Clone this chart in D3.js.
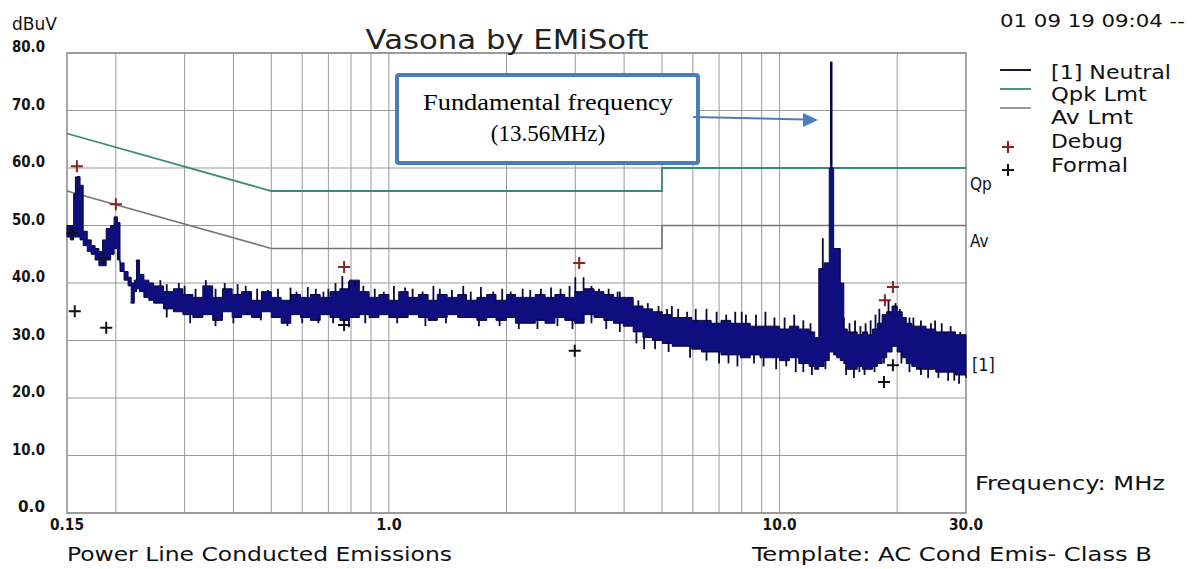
<!DOCTYPE html>
<html>
<head>
<meta charset="utf-8">
<style>
 body { margin: 0; background: #fff; }
 svg { display: block; background: #fff; }
 .lbl { font-family: "DejaVu Sans Condensed", "Liberation Sans Narrow", "DejaVu Sans", sans-serif; fill: #111; }
 .tick { font-family: "DejaVu Sans", sans-serif; font-weight: bold; fill: #151515; font-size: 16px; }
 .grid line { stroke: #9a9a9a; stroke-width: 1px; }
</style>
</head>
<body>
<svg width="1192" height="569"></svg>
<script src="https://d3js.org/d3.v7.min.js"></script>
<script>

// ---- data ----
var yTicks = [0, 10, 20, 30, 40, 50, 60, 70, 80];
var xTickLabels = [[0.15, "0.15"], [1, "1.0"], [10, "10.0"], [30, "30.0"]];
var xGrid = [0.2, 0.3, 0.4, 0.5, 0.6, 0.7, 0.8, 0.9, 1, 2, 3, 4, 5, 6, 7, 8, 9, 10, 20];

// Neutral trace, envelope of the sweep (MHz, dBuV)
var neutralFreq = [0.150, 0.153, 0.156, 0.159, 0.162, 0.165, 0.169, 0.173, 0.177, 0.181, 0.185, 0.189, 0.194, 0.198, 0.202, 0.205, 0.210, 0.215, 0.219, 0.223, 0.226, 0.230, 0.236, 0.243,
  0.25, 0.265, 0.281, 0.297, 0.315, 0.334, 0.354, 0.375, 0.397, 0.42, 0.445, 0.472, 0.5, 0.53, 0.561, 0.594, 0.63, 0.667, 0.707, 0.749, 0.793, 0.84, 0.89, 0.943,
  1.0, 1.06, 1.12, 1.19, 1.26, 1.33, 1.41, 1.5, 1.58, 1.68, 1.78, 1.88, 2.0, 2.11, 2.24, 2.37, 2.51, 2.66, 2.82, 2.99, 3.16, 3.35, 3.55, 3.76, 3.98, 4.22, 4.47, 4.73,
  5.01, 5.31, 5.62, 5.96, 6.31, 6.68, 7.08, 7.5, 7.94, 8.41, 8.91, 9.44, 10.0, 10.6, 11.2, 11.9, 12.3, 12.6, 13.0, 13.4, 13.75, 14.0, 14.3, 14.6, 14.9, 15.3, 15.8,
  16.3, 16.8, 17.3, 17.8, 18.3, 18.8, 19.4, 20.0, 20.6, 21.1, 21.8, 22.4, 23.7, 25.1, 26.6, 28.2, 30.0];
var neutralHi = [50, 50, 55.5, 58.5, 57, 49, 47.5, 46.5, 46, 45.5, 47.5, 49.5, 50, 51.5, 50.5, 43.5, 42, 41, 40, 40.5, 44, 41.5, 40.5, 40,
  39.5, 38.5, 39, 38, 37.5, 39.5, 37.5, 39, 38, 38.5, 37, 38.5, 37.5, 37, 38, 37.5, 38, 37.5, 38.5, 39, 40.5, 38.5, 37.5, 38,
  37, 38.5, 37.5, 38, 37, 38, 37.5, 38, 37, 37.5, 38, 37, 38, 37.5, 37.5, 38, 37.5, 38, 37.5, 38.5, 39, 38.5, 38, 37.5, 37.5, 36, 35.5, 35,
  34.5, 34, 34, 33.5, 33.5, 33, 33.5, 33, 33, 32.5, 32.5, 32.5, 32, 32.5, 32, 31.5, 30.5, 42.5, 43.5, 60, 46, 46, 40, 32, 31.5, 31.5, 31,
  31.5, 31, 32, 33, 34.5, 35, 36, 35, 34, 33, 32.5, 32.5, 32, 31.5, 31.5, 31, 30];
var neutralLo = [48, 47.5, 48, 48, 47.5, 46.5, 45.5, 45, 44, 43, 43, 44, 45, 46, 44, 42, 40.5, 39.5, 36.5, 38.5, 39, 38.5, 37.5, 37,
  36.5, 35.5, 35, 34.5, 34, 34.5, 33.5, 35, 34, 34.5, 34, 35, 34, 33, 34.5, 34, 33.5, 34.5, 34, 33.5, 34, 34.5, 34, 34.5,
  34, 34, 34.5, 34, 33.5, 34, 34.5, 34, 34, 33.5, 34, 33.5, 34, 33, 33, 33.5, 33, 34, 33.5, 33, 34.5, 34, 33.5, 33, 32.5, 31.5, 30.5, 30,
  29.5, 29, 29, 28.5, 28, 28, 27.5, 27.5, 27, 27.5, 27, 27, 26.5, 27, 26, 25.5, 25, 25.5, 26.5, 28, 27.5, 27, 26.5, 26, 25, 25, 25.5,
  25, 25, 25.5, 26, 27, 28, 29, 28, 27, 26, 25.5, 25, 25, 24.5, 24.5, 24, 23.5];

// narrow spikes above the envelope
var spikeFreq = [0.158, 0.226, 0.26, 0.27, 0.29, 0.30, 0.32, 0.34, 0.36, 0.38, 0.41, 0.43, 0.46, 0.49, 0.52, 0.56, 0.58, 0.62, 0.65, 0.68, 0.70, 0.73,
  0.76, 0.79, 0.82, 0.86, 0.92, 0.97, 1.03, 1.10, 1.15, 1.22, 1.30, 1.35, 1.45, 1.55, 1.62, 1.72, 1.85, 1.95, 2.05, 2.2, 2.3, 2.45, 2.6, 2.75, 2.9,
  3.0, 3.15, 3.3, 3.45, 3.65, 3.85, 3.9, 4.1, 4.35, 4.6, 4.9, 5.15, 5.3, 5.5, 5.8, 6.1, 6.5, 6.9, 7.3, 7.7, 8.0, 8.2, 8.7, 9.2, 9.7, 10.3, 10.9,
  11.5, 12.0, 12.9, 13.56, 14.6, 15.1, 15.6, 16.1, 16.6, 17.1, 17.6, 18.0, 19.0, 19.8, 20.3, 21.5, 22.0, 23.0, 24.4, 25.0, 26.0, 27.4, 29.0];
var spikeTop = [58.5, 44, 40.5, 39.8, 40, 39.5, 39, 40.5, 39, 40, 39.8, 39.5, 39, 38.8, 39, 39.2, 38.5, 39.3, 39, 38.5, 39, 40,
  41.2, 40.3, 39.5, 39.5, 39, 38.5, 39.5, 39.2, 39, 38.5, 39.5, 39, 38.8, 39.5, 38.5, 39.3, 38.5, 39, 38.5, 39, 38.8, 39, 39.2, 39, 39.5,
  41, 41, 39.5, 39, 39, 38.5, 38.5, 37.5, 37, 36.5, 36, 35.5, 36, 35.5, 35, 35.5, 35.5, 35, 34.5, 35, 35, 34.5, 34.5, 35, 34, 34, 34.5,
  33.5, 33, 47.8, 78.5, 34, 33, 33.5, 32.5, 33, 33.5, 34.5, 35.5, 37, 36.5, 35.5, 34, 34, 33.5, 33, 33.5, 33, 32.5, 31.5];
// narrow dips below the envelope
var dipFreq = [0.219, 0.27, 0.31, 0.36, 0.40, 0.47, 0.55, 0.60, 0.66, 0.72, 0.79, 0.87, 1.05, 1.24, 1.40, 1.70, 1.92, 2.15, 2.40, 2.70, 2.95,
  3.3, 3.6, 3.9, 4.3, 4.5, 4.8, 5.2, 5.9, 6.5, 7.0, 7.4, 7.8, 8.6, 9.1, 9.8, 10.4, 11.0, 11.5, 12.1, 13.1, 14.8, 15.5, 16.0, 16.5, 17.5, 18.5,
  20.5, 21.5, 23.0, 24.0, 25.5, 27.0, 28.0, 28.8];
var dipLow = [36.5, 34, 33, 32.5, 33, 33.5, 32.5, 33, 33, 33, 32.3, 33, 33, 32.5, 33, 32.5, 32.5, 32, 32, 32.5, 32,
  33, 32, 31.5, 29.5, 28.5, 28.5, 28, 27, 26.5, 26, 26, 25.5, 26, 25.5, 25, 25.5, 24.5, 24.5, 24, 25, 24, 23.5, 24.5, 24, 24.5, 26,
  26, 24.5, 24, 23.5, 23.5, 23, 23, 22.5];

// limit lines
var qpkFreq = [0.15, 0.5, 5, 5, 30];
var qpkLevel = [66, 56, 56, 60, 60];
var avFreq = [0.15, 0.5, 5, 5, 30];
var avLevel = [56, 46, 46, 50, 50];

// markers
var debugFreq = [0.159, 0.2, 0.768, 3.07, 18.6, 19.5];
var debugLevel = [60.3, 53.7, 42.8, 43.5, 37.0, 39.3];
var formalFreq = [0.155, 0.157, 0.186, 0.189, 0.768, 2.99, 18.5, 19.5];
var formalLevel = [48.7, 35.1, 44.3, 32.2, 32.7, 28.2, 22.8, 25.7];

var legendItems = ["[1] Neutral", "Qpk Lmt", "Av Lmt", "Debug", "Formal"];

// ---- drawing ----
var svg = d3.select("svg");
var x = d3.scaleLog().domain([0.15, 30]).range([67, 966]);
var y = d3.scaleLinear().domain([0, 80]).range([513, 53]);

var navy = "#0e0e7e", edge = "#070740", qpkColor = "#3a8a7c", avColor = "#767676";

var grid = svg.append("g").attr("class", "grid");
grid.selectAll(".v").data(xGrid).enter().append("line")
    .attr("x1", d => x(d)).attr("x2", d => x(d))
    .attr("y1", y(80)).attr("y2", y(0));
grid.selectAll(".h").data(yTicks).enter().append("line")
    .attr("x1", x(0.15)).attr("x2", x(30))
    .attr("y1", d => y(d)).attr("y2", d => y(d));
svg.append("rect").attr("x", x(0.15)).attr("y", y(80))
    .attr("width", x(30) - x(0.15)).attr("height", y(0) - y(80))
    .attr("fill", "none").attr("stroke", "#8a8a8a").attr("stroke-width", 1.5);

// axis labels
svg.selectAll(".ylab").data(yTicks).enter().append("text")
    .attr("class", "tick").attr("x", 45).attr("y", d => y(d) - 1)
    .attr("text-anchor", "end")
    .attr("textLength", d => d < 10 ? 27 : 33).attr("lengthAdjust", "spacingAndGlyphs")
    .text(d => d.toFixed(1));
svg.selectAll(".xlab").data(xTickLabels).enter().append("text")
    .attr("class", "tick").attr("x", d => x(d[0])).attr("y", 530)
    .attr("text-anchor", "middle")
    .attr("textLength", d => d[1].length * 8.5).attr("lengthAdjust", "spacingAndGlyphs")
    .text(d => d[1]);

// limits
var lim = d3.line().x(d => x(d[0])).y(d => y(d[1]));
svg.append("path").datum(d3.zip(avFreq, avLevel)).attr("d", lim)
    .attr("fill", "none").attr("stroke", avColor).attr("stroke-width", 1.6);
svg.append("path").datum(d3.zip(qpkFreq, qpkLevel)).attr("d", lim)
    .attr("fill", "none").attr("stroke", qpkColor).attr("stroke-width", 1.8);

// neutral trace
var trace = neutralFreq.map((f, i) => ({f: f, hi: neutralHi[i], lo: neutralLo[i]}));
var band = d3.area().x(d => x(d.f)).y0(d => y(d.lo)).y1(d => y(d.hi)).curve(d3.curveStepAfter);
svg.append("path").datum(trace).attr("d", band)
    .attr("fill", navy).attr("stroke", edge).attr("stroke-width", 1);

var trIdx = d3.bisector(d => d.f).right;
function baseAt(f) { var i = Math.max(0, trIdx(trace, f) - 1); return trace[i]; }
svg.selectAll(".spk").data(d3.zip(spikeFreq, spikeTop)).enter().append("line")
    .attr("x1", d => x(d[0])).attr("x2", d => x(d[0]))
    .attr("y1", d => y(baseAt(d[0]).hi) + 1).attr("y2", d => y(d[1]))
    .attr("stroke", edge).attr("stroke-width", d => d[0] === 13.56 ? 2.5 : 1.8);
svg.selectAll(".dip").data(d3.zip(dipFreq, dipLow)).enter().append("line")
    .attr("x1", d => x(d[0])).attr("x2", d => x(d[0]))
    .attr("y1", d => y(baseAt(d[0]).lo) - 1).attr("y2", d => y(d[1]))
    .attr("stroke", edge).attr("stroke-width", 1.8);

// markers
function plus(g, pts, color) {
  g.selectAll(null).data(pts).enter().append("path")
    .attr("d", d => "M" + (x(d[0]) - 6) + "," + y(d[1]) + "h12M" + x(d[0]) + "," + (y(d[1]) - 6) + "v12")
    .attr("stroke", color).attr("stroke-width", 2).attr("fill", "none");
}
plus(svg.append("g"), d3.zip(debugFreq, debugLevel), "#8a2222");
plus(svg.append("g"), d3.zip(formalFreq, formalLevel), "#111");

// right side trace labels
svg.append("text").attr("class", "lbl").attr("x", 970).attr("y", y(60) + 22).style("font-size", "17px").text("Qp");
svg.append("text").attr("class", "lbl").attr("x", 970).attr("y", y(50) + 21).style("font-size", "17px").text("Av");
svg.append("text").attr("class", "lbl").attr("x", 972).attr("y", y(28) + 19).style("font-size", "18px").text("[1]");

// titles and notes
svg.append("text").attr("x", 507).attr("y", 49).attr("text-anchor", "middle")
    .style("font-family", "'DejaVu Sans', sans-serif").style("font-size", "26px").attr("fill", "#222")
    .attr("textLength", 283).attr("lengthAdjust", "spacingAndGlyphs").text("Vasona by EMiSoft");
svg.append("text").attr("class", "lbl").attr("x", 12).attr("y", 30).style("font-size", "18px")
    .attr("textLength", 45).attr("lengthAdjust", "spacingAndGlyphs").text("dBuV");
svg.append("text").attr("class", "lbl").attr("x", 1000).attr("y", 27).style("font-size", "18px")
    .attr("textLength", 185).attr("lengthAdjust", "spacingAndGlyphs").text("01 09 19 09:04 --");
svg.append("text").attr("class", "lbl").attr("x", 67).attr("y", 561).style("font-size", "20px")
    .attr("textLength", 385).attr("lengthAdjust", "spacingAndGlyphs").text("Power Line Conducted Emissions");
svg.append("text").attr("class", "lbl").attr("x", 752).attr("y", 561).style("font-size", "20px")
    .attr("textLength", 400).attr("lengthAdjust", "spacingAndGlyphs").text("Template: AC Cond Emis- Class B");
svg.append("text").attr("class", "lbl").attr("x", 975).attr("y", 490).style("font-size", "20px")
    .attr("textLength", 190).attr("lengthAdjust", "spacingAndGlyphs").text("Frequency: MHz");

// legend
var legY = [72, 94, 117, 141, 165];
var legW = [120, 96, 82, 72, 77];
var leg = svg.append("g");
leg.selectAll("text").data(legendItems).enter().append("text")
    .attr("class", "lbl").attr("x", 1051).attr("y", (d, i) => legY[i] + 7).style("font-size", "20px")
    .attr("textLength", (d, i) => legW[i]).attr("lengthAdjust", "spacingAndGlyphs").text(d => d);
leg.append("line").attr("x1", 1000).attr("x2", 1031).attr("y1", 70).attr("y2", 70).attr("stroke", "#1a1a30").attr("stroke-width", 2);
leg.append("line").attr("x1", 1000).attr("x2", 1031).attr("y1", 89).attr("y2", 89).attr("stroke", qpkColor).attr("stroke-width", 1.8);
leg.append("line").attr("x1", 1000).attr("x2", 1031).attr("y1", 108).attr("y2", 108).attr("stroke", avColor).attr("stroke-width", 1.5);
leg.append("path").attr("d", "M1002,147h12M1008,141v12").attr("stroke", "#8a2222").attr("stroke-width", 2);
leg.append("path").attr("d", "M1002,170h12M1008,164v12").attr("stroke", "#111").attr("stroke-width", 2);

// annotation
var ann = svg.append("g");
ann.append("rect").attr("x", 397).attr("y", 75).attr("width", 301).attr("height", 88).attr("rx", 2)
    .attr("fill", "#fff").attr("stroke", "#4a7ebb").attr("stroke-width", 4);
ann.append("text").attr("x", 548).attr("y", 110).attr("text-anchor", "middle")
    .style("font-family", "'Liberation Serif', 'Times New Roman', serif").style("font-size", "23px")
    .attr("textLength", 250).attr("lengthAdjust", "spacingAndGlyphs").text("Fundamental frequency");
ann.append("text").attr("x", 548).attr("y", 141).attr("text-anchor", "middle")
    .style("font-family", "'Liberation Serif', 'Times New Roman', serif").style("font-size", "23px")
    .text("(13.56MHz)");
ann.append("line").attr("x1", 693).attr("y1", 117).attr("x2", 805).attr("y2", 119.5)
    .attr("stroke", "#4a7ebb").attr("stroke-width", 2);
ann.append("path").attr("d", "M818,120L803,113L803,127Z").attr("fill", "#4a7ebb");

</script>
</body>
</html>
